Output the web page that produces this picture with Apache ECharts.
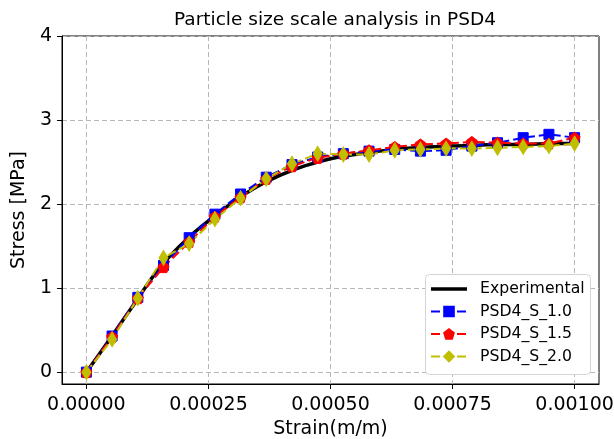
<!DOCTYPE html>
<html>
<head>
<meta charset="utf-8">
<script src="https://cdn.jsdelivr.net/npm/echarts@6/dist/echarts.min.js"></script>
<style>
  html, body { margin: 0; padding: 0; background: #fff; }
  #chart { width: 614px; height: 439px; }
</style>
</head>
<body>
<div id="chart"></div>
<script>
// Experimental stress-strain curve
const expStrain = [0, 0.00005, 0.0001, 0.00015, 0.0002, 0.00025, 0.0003, 0.00035, 0.0004, 0.00045,
  0.0005, 0.00055, 0.0006, 0.00065, 0.0007, 0.00075, 0.0008, 0.00085, 0.0009, 0.00095, 0.001];
const expStress = [0, 0.41, 0.83, 1.24, 1.55, 1.80, 2.02, 2.21, 2.35, 2.46,
  2.54, 2.59, 2.63, 2.66, 2.68, 2.69, 2.70, 2.71, 2.71, 2.72, 2.72];

// Simulated samples (shared strain positions)
const simStrain = [0, 0.0000526, 0.0001053, 0.0001579, 0.0002105, 0.0002632, 0.0003158, 0.0003684,
  0.0004211, 0.0004737, 0.0005263, 0.0005789, 0.0006316, 0.0006842, 0.0007368, 0.0007895,
  0.0008421, 0.0008947, 0.0009474, 0.001];
const stressS10 = [0, 0.43, 0.89, 1.27, 1.60, 1.88, 2.12, 2.32, 2.47, 2.56,
  2.60, 2.63, 2.65, 2.63, 2.64, 2.69, 2.73, 2.79, 2.83, 2.79];
const stressS15 = [0, 0.42, 0.88, 1.25, 1.55, 1.85, 2.08, 2.30, 2.45, 2.55,
  2.60, 2.64, 2.68, 2.71, 2.72, 2.74, 2.73, 2.72, 2.72, 2.79];
const stressS20 = [0, 0.39, 0.88, 1.36, 1.53, 1.82, 2.07, 2.30, 2.48, 2.60,
  2.59, 2.59, 2.64, 2.65, 2.66, 2.66, 2.67, 2.68, 2.69, 2.72];

const xTicks = [0, 0.00025, 0.0005, 0.00075, 0.001];
const yTicks = [0, 1, 2, 3, 4];

const FONT = 'DejaVu Sans';
const pairs = (xs, ys) => xs.map((x, i) => [x, ys[i]]);
const pentagon = 'path://M0,-1L0.951,-0.309L0.588,0.809L-0.588,0.809L-0.951,-0.309Z';

const gridLine = { show: true, lineStyle: { color: '#b8b8b8', width: 1, type: [5, 3] } };

function simSeries(name, data, color, symbol, size) {
  return {
    name, type: 'line', data: pairs(simStrain, data),
    symbol, symbolSize: size, showSymbol: true,
    lineStyle: { color, width: 2, type: [9, 4] },
    itemStyle: { color, borderColor: color, borderWidth: 1 },
    emphasis: { disabled: true }, animation: false, clip: false
  };
}

const chart = echarts.init(document.getElementById('chart'), null, { renderer: 'canvas' });
chart.setOption({
  backgroundColor: '#fff',
  animation: false,
  textStyle: { fontFamily: FONT },
  title: {
    text: 'Particle size scale analysis in PSD4',
    left: 330, top: 6, textAlign: 'center',
    textStyle: { fontFamily: FONT, fontSize: 18.5, fontWeight: 'normal', color: '#000' }
  },
  grid: {
    left: 62, right: 15, top: 36, bottom: 55,
    outerBoundsMode: 'none', containLabel: false,
    show: true, borderColor: '#000', borderWidth: 1, backgroundColor: 'transparent'
  },
  xAxis: {
    type: 'value', min: -0.00005, max: 0.00105,
    name: 'Strain(m/m)', nameLocation: 'middle', nameGap: 36,
    nameTextStyle: { fontFamily: FONT, fontSize: 19, color: '#000' },
    axisLine: { show: true, onZero: false, lineStyle: { color: '#000', width: 1 } },
    axisTick: { show: true, inside: false, length: 5, customValues: xTicks, lineStyle: { color: '#000' } },
    axisLabel: {
      customValues: xTicks, margin: 12, color: '#000', fontFamily: FONT, fontSize: 19,
      formatter: v => v.toFixed(5)
    },
    splitLine: gridLine
  },
  yAxis: {
    type: 'value', min: -0.141, max: 4,
    name: 'Stress [MPa]', nameLocation: 'middle', nameGap: 22,
    nameTextStyle: { fontFamily: FONT, fontSize: 19, color: '#000' },
    axisLine: { show: true, onZero: false, lineStyle: { color: '#000', width: 1 } },
    axisTick: { show: true, inside: false, length: 5, customValues: yTicks, lineStyle: { color: '#000' } },
    axisLabel: {
      customValues: yTicks, margin: 10, color: '#000', fontFamily: FONT, fontSize: 19,
      formatter: v => String(Math.round(v))
    },
    splitLine: gridLine
  },
  // legend frame
  graphic: [{
    type: 'rect', z: 3, silent: true,
    shape: { x: 425.5, y: 274.5, width: 165, height: 100, r: 4 },
    style: { fill: '#fff', stroke: '#d4d4d4', lineWidth: 1 }
  }],
  legend: {
    orient: 'vertical', left: 425, top: 274, z: 4,
    padding: [7, 4, 7, 5], itemGap: 6.5, itemWidth: 36, itemHeight: 12,
    symbolKeepAspect: true,
    textStyle: { fontFamily: FONT, fontSize: 15.7, color: '#000', padding: [0, 0, 0, 8] },
    data: [
      { name: 'Experimental', icon: 'path://M0,0H36V3.6H0Z' },
      'PSD4_S_1.0', 'PSD4_S_1.5', 'PSD4_S_2.0'
    ]
  },
  series: [
    {
      name: 'Experimental', type: 'line', data: pairs(expStrain, expStress),
      smooth: true, showSymbol: false, symbol: 'none',
      lineStyle: { color: '#000', width: 3.5 }, itemStyle: { color: '#000' },
      emphasis: { disabled: true }, clip: false
    },
    simSeries('PSD4_S_1.0', stressS10, '#0000ff', 'rect', 10),
    simSeries('PSD4_S_1.5', stressS15, '#ff0000', pentagon, 11),
    simSeries('PSD4_S_2.0', stressS20, '#bfbf00', 'diamond', [9, 15])
  ]
});
</script>
</body>
</html>
